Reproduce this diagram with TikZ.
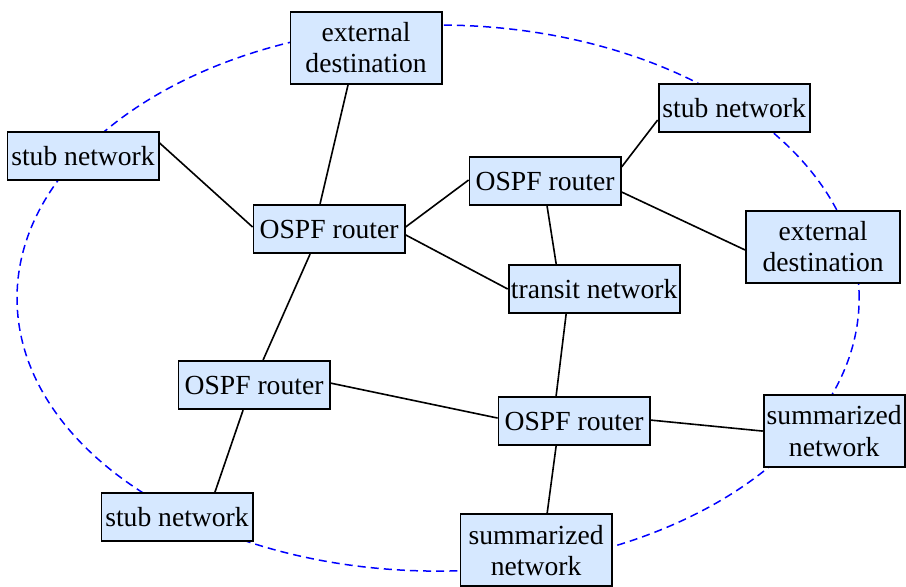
\documentclass[tikz,border=0pt]{standalone}
\usepackage{fontspec}
\setmainfont{Liberation Serif}
\usepackage{xcolor}
\definecolor{boxblue}{RGB}{214,232,255}

\begin{document}
\begin{tikzpicture}[
  netbox/.style={draw=black, line width=0.8pt, fill=boxblue, align=center,
    font=\fontsize{12}{13.5}\selectfont, inner xsep=1pt, inner ysep=4.6pt,
    minimum width=65.7pt, minimum height=21pt},
  link/.style={line width=0.7pt},
  area/.style={blue, line width=0.65pt, dash pattern=on 3.5pt off 2.2pt}]
  \useasboundingbox (0,0) rectangle (13.84,8.953);
  % area border, behind the boxes
  \draw[area] (6.692,4.400) ellipse (6.432cm and 4.171cm);
  % networks and routers
  \node[netbox] (extTop) at (5.592,8.220) {external\\destination};
  \node[netbox] (stubL) at (1.268,6.570) {stub network};
  \node[netbox] (stubTR) at (11.215,7.303) {stub network};
  \node[netbox] (rtrA) at (5.027,5.455) {OSPF router};
  \node[netbox] (rtrB) at (8.327,6.188) {OSPF router};
  \node[netbox, minimum width=67pt] (extR) at (12.574,5.180) {external\\destination};
  \node[netbox] (transit) at (9.076,4.538) {transit network};
  \node[netbox] (rtrC) at (3.881,3.071) {OSPF router};
  \node[netbox] (rtrD) at (8.770,2.521) {OSPF router};
  \node[netbox, minimum width=61.3pt] (sumR) at (12.743,2.368) {summarized\\network};
  \node[netbox] (stubBL) at (2.704,1.054) {stub network};
  \node[netbox] (sumB) at (8.190,0.550) {summarized\\network};
  % links
  \draw[link] ([xshift=-0.275cm]extTop.south) -- ([xshift=-0.138cm]rtrA.north);
  \draw[link] ([yshift=0.2cm]stubL.east) -- ([yshift=0.03cm]rtrA.west);
  \draw[link] ([yshift=0.03cm]rtrA.east) -- ([yshift=0.015cm]rtrB.west);
  \draw[link] ([yshift=-0.09cm]rtrA.east) -- (transit.west);
  \draw[link] ([xshift=-0.29cm]rtrA.south) -- ([xshift=0.138cm]rtrC.north);
  \draw[link] ([yshift=0.214cm]rtrB.east) -- ([yshift=-0.183cm]stubTR.west);
  \draw[link] ([yshift=-0.168cm]rtrB.east) -- ([yshift=-0.046cm]extR.west);
  \draw[link] ([xshift=0.03cm]rtrB.south) -- ([xshift=-0.58cm]transit.north);
  \draw[link] ([xshift=-0.428cm]transit.south) -- ([xshift=-0.275cm]rtrD.north);
  \draw[link] ([yshift=0.03cm]rtrC.east) -- ([yshift=0.046cm]rtrD.west);
  \draw[link] ([xshift=-0.168cm]rtrC.south) -- ([xshift=0.58cm]stubBL.north);
  \draw[link] ([yshift=0.015cm]rtrD.east) -- (sumR.west);
  \draw[link] ([xshift=-0.275cm]rtrD.south) -- ([xshift=0.168cm]sumB.north);
\end{tikzpicture}
\end{document}
